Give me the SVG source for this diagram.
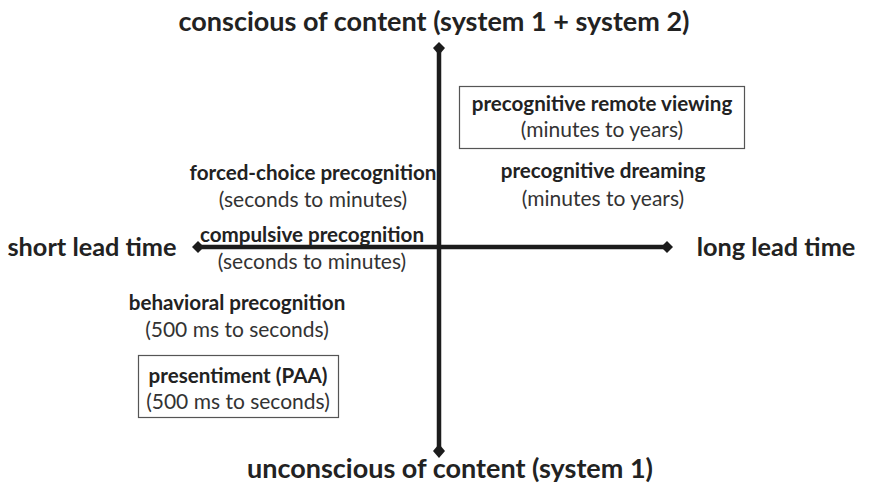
<svg xmlns="http://www.w3.org/2000/svg" width="870" height="488" viewBox="0 0 870 488">
<style>
text{font-family:Lato,"Open Sans","Liberation Sans",sans-serif;fill:#222;text-anchor:middle}
.t{font-weight:bold;font-size:27px}
.a{font-weight:bold;font-size:25.3px}
.b{font-weight:bold;font-size:20.6px}
.n{font-size:21px;fill:#333}
.box{fill:#fff;stroke:#555;stroke-width:1.2}
.ax{stroke:#1c1c1c;stroke-width:4.5;fill:none}
.dm{fill:#1c1c1c}
</style>
<rect width="870" height="488" fill="#fff"/>
<g id="connectors">
<line class="ax" x1="439" y1="50" x2="439" y2="449"/>
<line class="ax" x1="200" y1="247" x2="665" y2="247"/>
<path class="dm" d="M439 42 L445 48 L439 55 L433 48 Z"/>
<path class="dm" d="M439 444 L445 451 L439 458 L433 451 Z"/>
<path class="dm" d="M192 247 L198 241 L204 247 L198 253 Z"/>
<path class="dm" d="M661 247 L667 241 L673 247 L667 253 Z"/>
</g>
<g id="title-top"><text class="t" x="434" y="31">conscious of content (system 1 + system 2)</text></g>
<g id="title-bottom"><text class="t" x="450" y="478">unconscious of content (system 1)</text></g>
<g id="label-short"><text class="a" x="92" y="256">short lead time</text></g>
<g id="label-long"><text class="a" x="776" y="256">long lead time</text></g>
<g id="remote-viewing">
<rect class="box" x="459.5" y="86.5" width="285" height="62"/>
<text class="b" x="602" y="111">precognitive remote viewing</text>
<text class="n" x="602" y="137">(minutes to years)</text>
</g>
<g id="forced-choice">
<text class="b" x="313" y="180">forced-choice precognition</text>
<text class="n" x="313" y="207">(seconds to minutes)</text>
</g>
<g id="dreaming">
<text class="b" x="603" y="178">precognitive dreaming</text>
<text class="n" x="603" y="206">(minutes to years)</text>
</g>
<g id="compulsive">
<text class="b" x="312" y="242">compulsive precognition</text>
<text class="n" x="312" y="269">(seconds to minutes)</text>
</g>
<g id="behavioral">
<text class="b" x="237" y="310">behavioral precognition</text>
<text class="n" x="237" y="337">(500 ms to seconds)</text>
</g>
<g id="presentiment">
<rect class="box" x="138.5" y="355.5" width="200" height="62"/>
<text class="b" x="238" y="383">presentiment (PAA)</text>
<text class="n" x="238" y="409">(500 ms to seconds)</text>
</g>
</svg>
